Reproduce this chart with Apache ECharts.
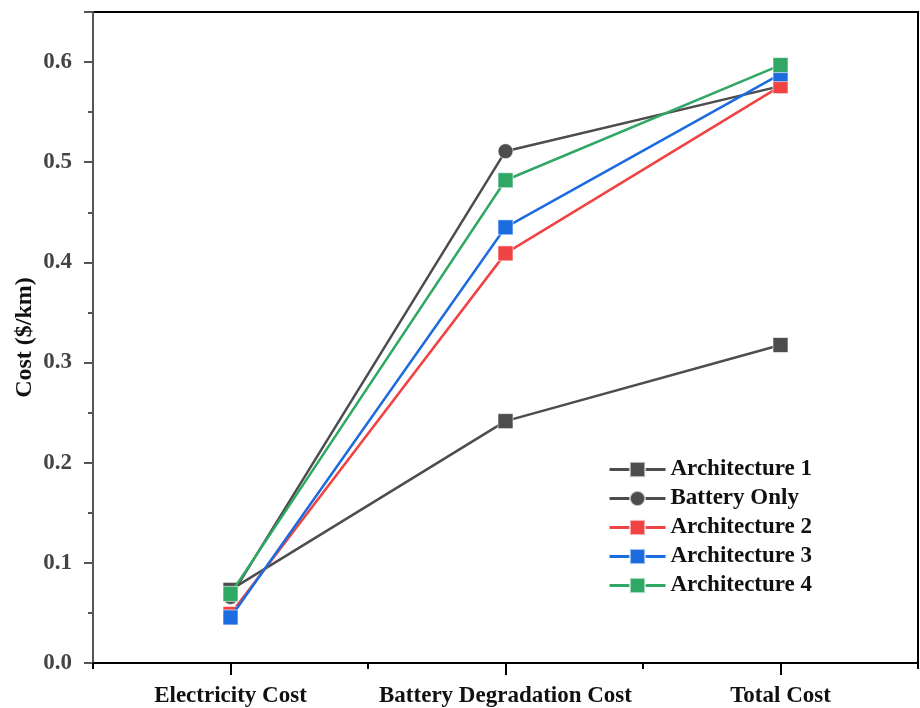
<!DOCTYPE html>
<html><head><meta charset="utf-8">
<script src="https://cdn.jsdelivr.net/npm/echarts@6/dist/echarts.min.js"></script>
<style>html,body{margin:0;padding:0;background:#fff}#c{width:920px;height:708px}</style>
</head><body><div id="c"></div>
<script>
const categories = ['Electricity Cost', 'Battery Degradation Cost', 'Total Cost'];
const seriesNames = ['Architecture 1', 'Battery Only', 'Architecture 2', 'Architecture 3', 'Architecture 4'];
const arch1 = [0.073, 0.2415, 0.3175];
const batteryOnly = [0.066, 0.511, 0.576];
const arch2 = [0.049, 0.409, 0.576];
const arch3 = [0.0455, 0.435, 0.588];
const arch4 = [0.069, 0.482, 0.597];
const yTicks = [0, 0.1, 0.2, 0.3, 0.4, 0.5, 0.6];

const colors = ['#4d4d4d', '#4d4d4d', '#f04343', '#1c6ce0', '#30a865'];
const symbols = ['rect', 'circle', 'rect', 'rect', 'rect'];
const values = [arch1, batteryOnly, arch2, arch3, arch4];
const font = '"Liberation Serif", "Times New Roman", serif';

const chart = echarts.init(document.getElementById('c'), null, {renderer: 'canvas'});
chart.setOption({
  animation: false,
  backgroundColor: '#fff',
  grid: {left: 93, right: 2, top: 12, bottom: 45, outerBoundsMode: 'none', containLabel: false,
    show: true, borderColor: '#000', borderWidth: 2},
  legend: {
    orient: 'vertical', left: 603, top: 453,
    itemWidth: 56, itemHeight: 19, itemGap: 6,
    lineStyle: {width: 3},
    textStyle: {fontFamily: font, fontWeight: 'bold', fontSize: 23, color: '#111'},
    data: seriesNames
  },
  xAxis: [{
    type: 'category', data: categories, boundaryGap: true,
    axisLine: {show: true, lineStyle: {color: '#000', width: 2}},
    axisTick: {show: true, alignWithLabel: true, length: 12, lineStyle: {color: '#000', width: 2}},
    axisLabel: {show: true, interval: 0, margin: 22, fontFamily: font, fontWeight: 'bold', fontSize: 23, color: '#111'},
    splitLine: {show: false}
  }, {
    type: 'category', data: categories, boundaryGap: true, position: 'bottom',
    axisLine: {show: false},
    axisTick: {show: true, interval: 0, alignWithLabel: false, length: 6, lineStyle: {color: '#000', width: 2}},
    axisLabel: {show: false}, splitLine: {show: false}
  }],
  yAxis: {
    type: 'value', min: 0, max: 0.65, interval: 0.1,
    name: 'Cost ($/km)', nameLocation: 'middle', nameGap: 56, nameMoveOverlap: false,
    nameTextStyle: {fontFamily: font, fontWeight: 'bold', fontSize: 24, color: '#111'},
    axisLine: {show: true, lineStyle: {color: '#555', width: 2}},
    axisTick: {show: true, length: 9, lineStyle: {color: '#555', width: 2}},
    minorTick: {show: true, splitNumber: 2, length: 5, lineStyle: {color: '#555', width: 2}},
    axisLabel: {margin: 21, fontFamily: font, fontWeight: 'bold', fontSize: 23, color: '#444',
      formatter: v => yTicks.some(t => Math.abs(t - v) < 1e-9) ? v.toFixed(1) : ''},
    splitLine: {show: false}
  },
  series: seriesNames.map((n, i) => ({
    name: n, type: 'line', data: values[i],
    symbol: symbols[i], symbolSize: 15, showSymbol: true,
    lineStyle: {color: colors[i], width: 2.5},
    itemStyle: {color: colors[i], borderColor: 'rgba(255,255,255,0.6)', borderWidth: 1},
    z: 2 + i
  }))
});
</script></body></html>
